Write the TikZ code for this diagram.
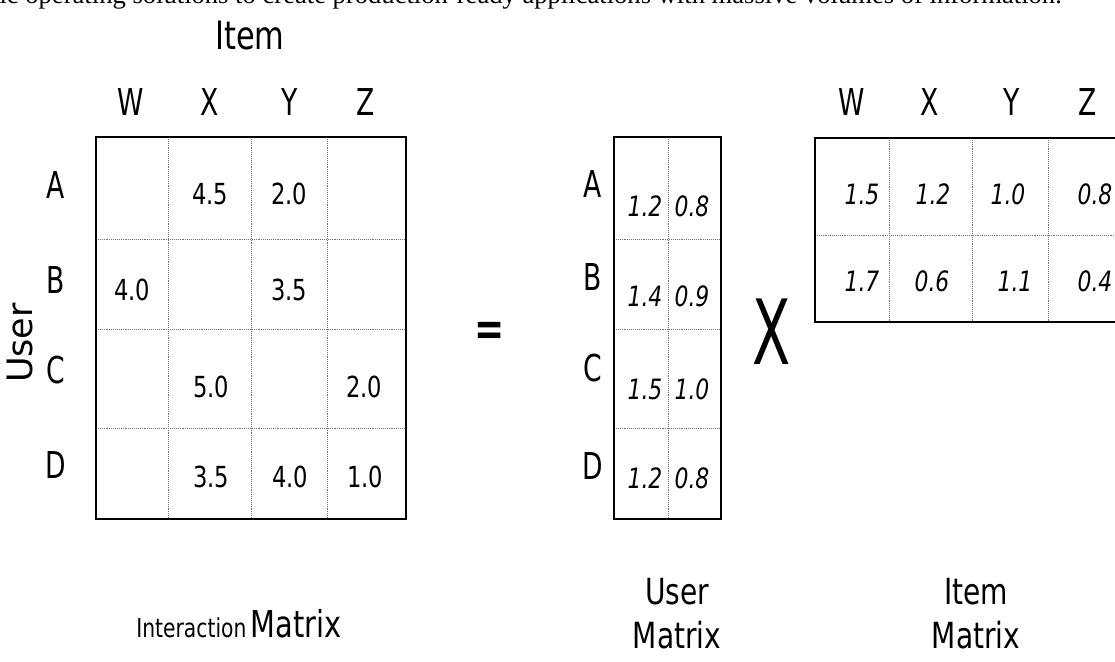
\documentclass[tikz,border=0pt]{standalone}
\usepackage{fontspec}
\usepackage{graphicx}
\newfontfamily\dv[FakeStretch=0.78]{DejaVu Sans}
\newfontfamily\dvc[FakeStretch=0.72]{DejaVu Sans}
\newfontfamily\dvn{DejaVu Sans}
\newfontfamily\serif{Liberation Serif}
\begin{document}
\begin{tikzpicture}[x=1pt,y=-1pt,
  lbl/.style={font=\dvc\fontsize{37}{37}\selectfont, inner sep=0pt},
  val/.style={font=\dv\fontsize{29}{29}\selectfont, inner sep=0pt},
  ival/.style={font=\dv\itshape\fontsize{28}{28}\selectfont, inner sep=0pt},
  caplbl/.style={font=\dv\fontsize{36}{36}\selectfont, inner sep=0pt},
  box/.style={draw=black, line width=1.4pt},
  cellline/.style={draw=black!55, densely dotted, line width=0.9pt}]
\useasboundingbox (0,0) rectangle (1115,661);
\clip (0,0) rectangle (1115,661);

% cut-off line of text at the top
\node[anchor=base east, font=\serif\fontsize{26.6}{26.6}\selectfont, inner sep=0pt] (toptext) at (1062,4)
  {ic operating solutions to create production-ready applications with massive volumes of information.};

% ---------- Interaction matrix ----------
\node[font=\dv\fontsize{39}{39}\selectfont, inner sep=0pt] (itemlbl) at (250,36) {Item};
\node[lbl] (hw) at (131,102) {W};
\node[lbl] (hx) at (210,102) {X};
\node[lbl] (hy) at (290,102) {Y};
\node[lbl] (hz) at (366,102) {Z};

\draw[cellline] (168,137) -- (168,519) (251,137) -- (251,519) (327,137) -- (327,519);
\draw[cellline] (96,239) -- (406,239) (96,329) -- (406,329) (96,428) -- (406,428);
\draw[box] (96,137) rectangle (406,519);

\node[lbl] (ra) at (56,185) {A};
\node[lbl] (rb) at (56,280) {B};
\node[lbl] (rc) at (56,370) {C};
\node[lbl] (rd) at (56,465) {D};
\node[font=\dvn\fontsize{35}{35}\selectfont, inner sep=0pt, rotate=90] (userlbl) at (20,343) {User};

\node[val] (v1) at (210,194) {4.5};
\node[val] (v2) at (289,194) {2.0};
\node[val] (v3) at (132,290) {4.0};
\node[val] (v4) at (289,290) {3.5};
\node[val] (v5) at (211,387) {5.0};
\node[val] (v6) at (364,387) {2.0};
\node[val] (v7) at (211,477) {3.5};
\node[val] (v8) at (290,477) {4.0};
\node[val] (v9) at (365,477) {1.0};

\node[inner sep=0pt] (ilabel) at (239,624)
  {\dv\fontsize{26}{26}\selectfont Interaction\,\fontsize{37}{37}\selectfont Matrix};

% ---------- equals ----------
\node[inner sep=0pt] (eq) at (490,334)
  {\scalebox{0.75}[1]{\dvn\bfseries\fontsize{48}{48}\selectfont =}};

% ---------- User matrix ----------
\draw[cellline] (668,137) -- (668,519);
\draw[cellline] (614,239) -- (721,239) (614,329) -- (721,329) (614,428) -- (721,428);
\draw[box] (614,137) rectangle (721,519);

\node[lbl] (ua) at (593,184) {A};
\node[lbl] (ub) at (593,277) {B};
\node[lbl] (uc) at (593,368) {C};
\node[lbl] (ud) at (593,466) {D};

\node[ival] (u11) at (645,206) {1.2};
\node[ival] (u12) at (692,206) {0.8};
\node[ival] (u21) at (645,296) {1.4};
\node[ival] (u22) at (692,296) {0.9};
\node[ival] (u31) at (645,389) {1.5};
\node[ival] (u32) at (692,389) {1.0};
\node[ival] (u41) at (645,478) {1.2};
\node[ival] (u42) at (692,478) {0.8};

\node[caplbl] (ulabel1) at (677,592) {User};
\node[caplbl] (ulabel2) at (677,635) {Matrix};

% ---------- times ----------
\node[inner sep=0pt] (times) at (772,332)
  {\scalebox{0.62}[1]{\dvn\fontsize{90}{90}\selectfont X}};

% ---------- Item matrix ----------
\node[lbl] (jw) at (852,102) {W};
\node[lbl] (jx) at (930,102) {X};
\node[lbl] (jy) at (1012,102) {Y};
\node[lbl] (jz) at (1088,102) {Z};

\draw[cellline] (889,138) -- (889,322) (972,138) -- (972,322) (1048,138) -- (1048,322);
\draw[cellline] (815,235) -- (1116,235);
\draw[box] (815,138) rectangle (1118,322);

\node[ival] (i11) at (862,194) {1.5};
\node[ival] (i12) at (933,194) {1.2};
\node[ival] (i13) at (1008,194) {1.0};
\node[ival] (i14) at (1095,194) {0.8};
\node[ival] (i21) at (862,281) {1.7};
\node[ival] (i22) at (932,281) {0.6};
\node[ival] (i23) at (1015,281) {1.1};
\node[ival] (i24) at (1095,281) {0.4};

\node[caplbl] (jlabel1) at (976,592) {Item};
\node[caplbl] (jlabel2) at (976,635) {Matrix};
\end{tikzpicture}
\end{document}
